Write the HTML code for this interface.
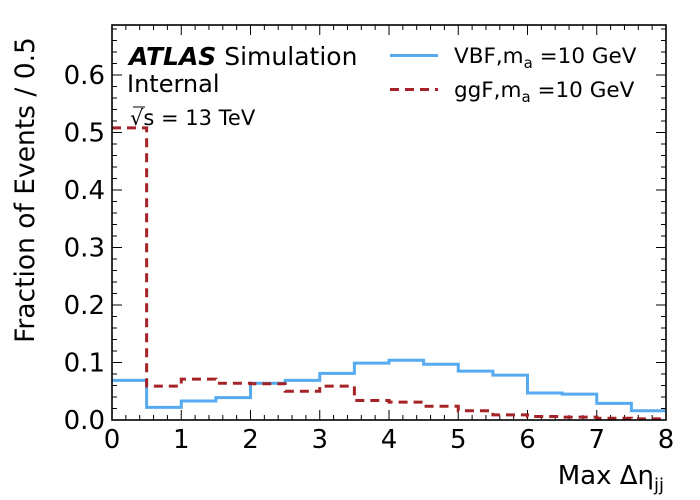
<!DOCTYPE html>
<html><head><meta charset="utf-8"><style>
html,body{margin:0;padding:0;background:#fff;}
svg{display:block;font-family:"DejaVu Sans","Liberation Sans",sans-serif;}
</style></head><body>
<svg id="chart" width="700" height="500" viewBox="0 0 700 500">
<g id="ticks"></g>
<g id="series"></g>
<rect x="112" y="25" width="554" height="395" fill="none" stroke="#000" stroke-width="1.6"/>
<g id="ticklabels" font-size="26"></g>
<text x="0" y="0" font-size="26.5" text-anchor="middle" transform="translate(34,190) rotate(-90)">Fraction of Events / 0.5</text>
<text x="664" y="484" font-size="26" text-anchor="end">Max Δη<tspan font-size="18" dy="7">jj</tspan></text>
<text x="129" y="65" font-size="25"><tspan font-weight="bold" font-style="italic">ATLAS</tspan> Simulation</text>
<text x="127" y="92" font-size="24">Internal</text>
<text x="130" y="125" font-size="21">√s = 13 TeV</text>
<line x1="133" y1="107" x2="145" y2="107" stroke="#000" stroke-width="1"/>
<g>
<line x1="390" y1="55.5" x2="438" y2="55.5" stroke="#56aaf0" stroke-width="3"/>
<text x="454" y="63" font-size="21.5">VBF,m<tspan font-size="15" dy="5">a</tspan><tspan dy="-5"> =10 GeV</tspan></text>
<line x1="390" y1="89.5" x2="438" y2="89.5" stroke="#a52226" stroke-width="3" stroke-dasharray="9,6"/>
<text x="454" y="97" font-size="21.5">ggF,m<tspan font-size="15" dy="5">a</tspan><tspan dy="-5"> =10 GeV</tspan></text>
</g>
</svg>
<script>
const binEdges = [0,0.5,1,1.5,2,2.5,3,3.5,4,4.5,5,5.5,6,6.5,7,7.5,8];
const vbfValues = [0.069,0.022,0.033,0.039,0.064,0.069,0.081,0.099,0.104,0.097,0.085,0.078,0.047,0.045,0.029,0.016];
const ggfValues = [0.508,0.059,0.071,0.064,0.063,0.050,0.059,0.034,0.031,0.024,0.016,0.009,0.006,0.005,0.003,0.002];
const xTickLabels = ["0","1","2","3","4","5","6","7","8"];
const yTickLabels = ["0.0","0.1","0.2","0.3","0.4","0.5","0.6"];

const X0=112,X1=666,Y0=420,Y1=25;
const xs = v => X0 + v*(X1-X0)/8;
const ys = v => Y0 - v*575;
const NS="http://www.w3.org/2000/svg";
function mk(tag,attrs,parent){const e=document.createElementNS(NS,tag);for(const k in attrs)e.setAttribute(k,attrs[k]);parent.appendChild(e);return e;}

const tg=document.getElementById('ticks');
for(let i=0;i<=40;i++){
  const v=i*0.2, x=xs(v), len=(i%5===0)?10:5;
  const a=mk('line',{x1:x,x2:x,y1:Y0,y2:Y0-len,stroke:'#000','stroke-width':1},tg);
  
  
  const b=mk('line',{x1:x,x2:x,y1:Y1,y2:Y1+len,stroke:'#000','stroke-width':1},tg);
  
  
}
for(let i=0;i<=34;i++){
  const v=i*0.02, y=ys(v), len=(i%5===0)?10:5;
  if(y<Y1) continue;
  const a=mk('line',{x1:X0,x2:X0+len,y1:y,y2:y,stroke:'#000','stroke-width':1},tg);
  
  
  const b=mk('line',{x1:X1,x2:X1-len,y1:y,y2:y,stroke:'#000','stroke-width':1},tg);
  
  
}
const tl=document.getElementById('ticklabels');
xTickLabels.forEach((t,i)=>{
  const e=mk('text',{x:xs(Number(t)),y:448,'text-anchor':'middle'},tl);
  e.textContent=t;
  
  
});
yTickLabels.forEach((t)=>{
  const e=mk('text',{x:105,y:ys(Number(t))+9,'text-anchor':'end'},tl);
  e.textContent=t;
  
  
});
function stepPath(vals){
  let d='M'+xs(binEdges[0])+','+ys(vals[0]);
  vals.forEach((v,i)=>{d+=' L'+xs(binEdges[i])+','+ys(v)+' L'+xs(binEdges[i+1])+','+ys(v);});
  return d;
}
const sg=document.getElementById('series');
const p1=mk('path',{d:stepPath(vbfValues),fill:'none',stroke:'#56aaf0','stroke-width':3},sg);


const p2=mk('path',{d:stepPath(ggfValues),fill:'none',stroke:'#a52226','stroke-width':3,'stroke-dasharray':'9,6'},sg);


</script>
</body></html>
